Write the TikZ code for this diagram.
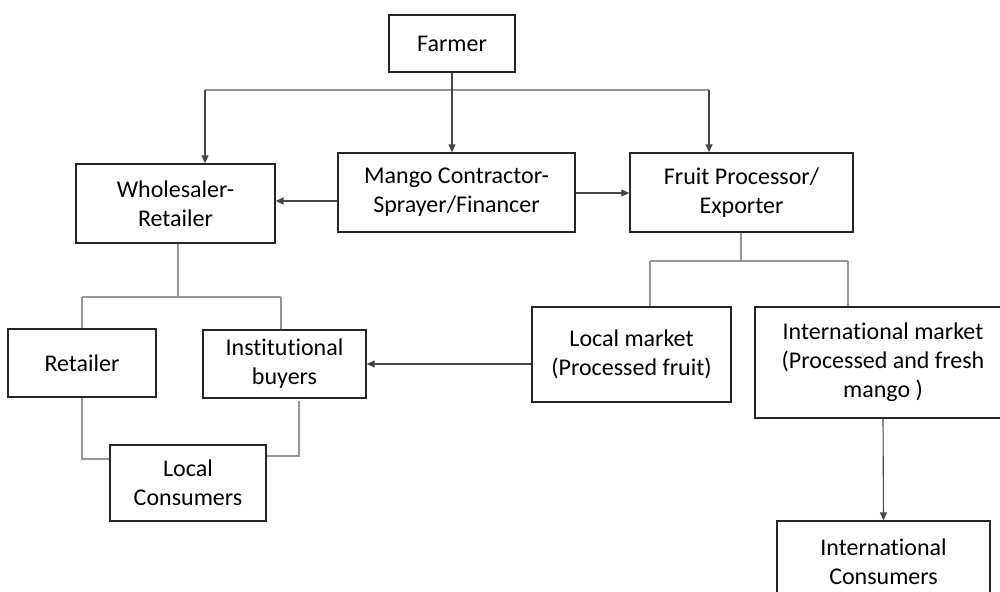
\documentclass[tikz,border=0pt]{standalone}
\usepackage{fontspec}
\setmainfont{Carlito}[Ligatures=NoCommon]
\usetikzlibrary{arrows.meta}
\definecolor{conn}{RGB}{150,150,150}
\definecolor{darkconn}{RGB}{70,70,70}
\tikzset{
  box/.style={draw=black!85, line width=1.3pt, fill=white, align=center, inner sep=0pt,
    font=\fontsize{24}{29}\selectfont},
  link/.style={draw=conn, line width=1.1pt},
  arr/.style={draw=darkconn, line width=1.1pt, -{Triangle[length=8pt,width=7pt]}},
}
\begin{document}
\begin{tikzpicture}[x=1pt,y=-1pt]
\useasboundingbox (0,0) rectangle (1000,591);
\clip (0,0) rectangle (1000,591);
% nodes
\node[box, minimum width=126pt, minimum height=57pt] (farmer) at (452,43.5) {Farmer};
\node[box, minimum width=199pt, minimum height=79pt] (whole) at (175.5,203.5) {Wholesaler-\\Retailer};
\node[box, minimum width=237pt, minimum height=79pt] (mango) at (456.5,192.5) {Mango Contractor-\\Sprayer/Financer};
\node[box, minimum width=223pt, minimum height=79pt] (proc) at (741.5,192.5) {Fruit Processor/\\Exporter};
\node[box, minimum width=199pt, minimum height=95pt] (lmkt) at (631.5,354.5) {Local market\\(Processed fruit)};
\node[box, minimum width=256pt, minimum height=111pt] (imkt) at (883,362.5) {International market\\(Processed and fresh\\mango )};
\node[box, minimum width=213pt, minimum height=82pt] (icons) at (883.5,562) {International\\Consumers};
\node[box, minimum width=148pt, minimum height=68pt] (ret) at (82,363) {Retailer};
\node[box, minimum width=163pt, minimum height=68pt] (inst) at (284.5,364) {Institutional\\buyers};
\node[box, minimum width=156pt, minimum height=76pt] (lcons) at (188,483) {Local\\Consumers};
% coordinates
\coordinate (tl) at (205,90);
\coordinate (tm) at (452,90);
\coordinate (tr) at (709,90);
\coordinate (pb) at (741,261);
\coordinate (pl) at (650,261);
\coordinate (pr) at (848,261);
\coordinate (wb) at (178,297);
\coordinate (wl) at (82,297);
\coordinate (wr) at (281,297);
\coordinate (rc) at (82,459);
\coordinate (ic) at (299,456);
\coordinate (is) at (299,401);
% connectors
\draw[link] (tl) -- (tr);
\draw[arr] (farmer.south -| tm) -- (mango.north -| tm);
\draw[arr] (tl) -- (whole.north -| tl);
\draw[arr] (tr) -- (proc.north -| tr);
\draw[arr] (mango.west |- 0,201) -- (whole.east |- 0,201);
\draw[arr] (mango.east |- 0,193) -- (proc.west |- 0,193);
\draw[link] (proc.south -| pb) -- (pb);
\draw[link] (pl) -- (pr);
\draw[link] (pl) -- (lmkt.north -| pl);
\draw[link] (pr) -- (imkt.north -| pr);
\draw[link] (whole.south -| wb) -- (wb);
\draw[link] (wl) -- (wr);
\draw[link] (wl) -- (ret.north -| wl);
\draw[link] (wr) -- (inst.north -| wr);
\draw[arr] (lmkt.west |- 0,364) -- (inst.east |- 0,364);
\draw[link] (ret.south -| rc) -- (rc) -- (lcons.west |- rc);
\draw[link] (is) -- (ic) -- (lcons.east |- ic);
\draw[arr] (imkt.south) -- (icons.north);
\end{tikzpicture}
\end{document}
